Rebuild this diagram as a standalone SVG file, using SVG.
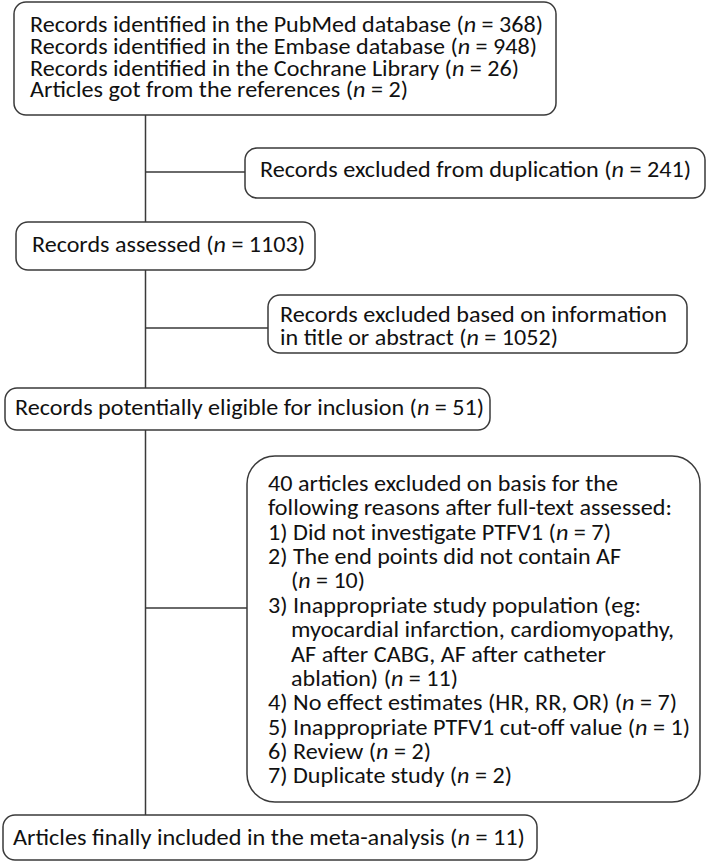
<svg xmlns="http://www.w3.org/2000/svg" width="709" height="862" viewBox="0 0 709 862">
<style>
.box{fill:#fff;stroke:#3a3a3a;stroke-width:1.5}
.ln{fill:none;stroke:#3a3a3a;stroke-width:1.5}
text{font-family:Carlito,Lato,"Open Sans",sans-serif;font-size:21.5px;fill:#111}
.i{font-style:italic}
</style>
<rect width="709" height="862" fill="#fff"/>
<g id="connectors">
<path class="ln" d="M145.5 115V222M145.5 172H245M145.5 270V388M145.5 328H268M145.5 430V815M145.5 608H247"/>
</g>
<g id="n1">
<rect class="box" x="14" y="2" width="542" height="113" rx="12"/>
<text x="30" y="32" textLength="513" lengthAdjust="spacingAndGlyphs">Records identified in the PubMed database (<tspan class="i">n</tspan> = 368)</text>
<text x="30" y="54" textLength="507" lengthAdjust="spacingAndGlyphs">Records identified in the Embase database (<tspan class="i">n</tspan> = 948)</text>
<text x="30" y="75.5" textLength="489" lengthAdjust="spacingAndGlyphs">Records identified in the Cochrane Library (<tspan class="i">n</tspan> = 26)</text>
<text x="30" y="97" textLength="378" lengthAdjust="spacingAndGlyphs">Articles got from the references (<tspan class="i">n</tspan> = 2)</text>
</g>
<g id="n2">
<rect class="box" x="245" y="148" width="460" height="50" rx="12"/>
<text x="260" y="177" textLength="431" lengthAdjust="spacingAndGlyphs">Records excluded from duplication (<tspan class="i">n</tspan> = 241)</text>
</g>
<g id="n3">
<rect class="box" x="16" y="222" width="299" height="48" rx="12"/>
<text x="32" y="252" textLength="273" lengthAdjust="spacingAndGlyphs">Records assessed (<tspan class="i">n</tspan> = 1103)</text>
</g>
<g id="n4">
<rect class="box" x="268" y="295" width="419" height="58" rx="12"/>
<text x="280" y="322" textLength="387" lengthAdjust="spacingAndGlyphs">Records excluded based on information</text>
<text x="280" y="345" textLength="278" lengthAdjust="spacingAndGlyphs">in title or abstract (<tspan class="i">n</tspan> = 1052)</text>
</g>
<g id="n5">
<rect class="box" x="5" y="388" width="485" height="42" rx="12"/>
<text x="15" y="415" textLength="469" lengthAdjust="spacingAndGlyphs">Records potentially eligible for inclusion (<tspan class="i">n</tspan> = 51)</text>
</g>
<g id="n6">
<rect class="box" x="247" y="456" width="453" height="346" rx="28"/>
<text x="268" y="491" textLength="350" lengthAdjust="spacingAndGlyphs">40 articles excluded on basis for the</text>
<text x="268" y="515" textLength="404" lengthAdjust="spacingAndGlyphs">following reasons after full-text assessed:</text>
<text x="268" y="540" textLength="343" lengthAdjust="spacingAndGlyphs">1) Did not investigate PTFV1 (<tspan class="i">n</tspan> = 7)</text>
<text x="268" y="564" textLength="353" lengthAdjust="spacingAndGlyphs">2) The end points did not contain AF</text>
<text x="291" y="588" textLength="74" lengthAdjust="spacingAndGlyphs">(<tspan class="i">n</tspan> = 10)</text>
<text x="268" y="613" textLength="373" lengthAdjust="spacingAndGlyphs">3) Inappropriate study population (eg:</text>
<text x="291" y="637" textLength="383" lengthAdjust="spacingAndGlyphs">myocardial infarction, cardiomyopathy,</text>
<text x="291" y="662" textLength="315" lengthAdjust="spacingAndGlyphs">AF after CABG, AF after catheter</text>
<text x="291" y="686" textLength="167" lengthAdjust="spacingAndGlyphs">ablation) (<tspan class="i">n</tspan> = 11)</text>
<text x="268" y="710" textLength="409" lengthAdjust="spacingAndGlyphs">4) No effect estimates (HR, RR, OR) (<tspan class="i">n</tspan> = 7)</text>
<text x="268" y="735" textLength="422" lengthAdjust="spacingAndGlyphs">5) Inappropriate PTFV1 cut-off value (<tspan class="i">n</tspan> = 1)</text>
<text x="268" y="759" textLength="163" lengthAdjust="spacingAndGlyphs">6) Review (<tspan class="i">n</tspan> = 2)</text>
<text x="268" y="783" textLength="244" lengthAdjust="spacingAndGlyphs">7) Duplicate study (<tspan class="i">n</tspan> = 2)</text>
</g>
<g id="n7">
<rect class="box" x="3" y="815" width="534" height="45" rx="12"/>
<text x="13" y="845" textLength="512" lengthAdjust="spacingAndGlyphs">Articles finally included in the meta-analysis (<tspan class="i">n</tspan> = 11)</text>
</g>
</svg>
